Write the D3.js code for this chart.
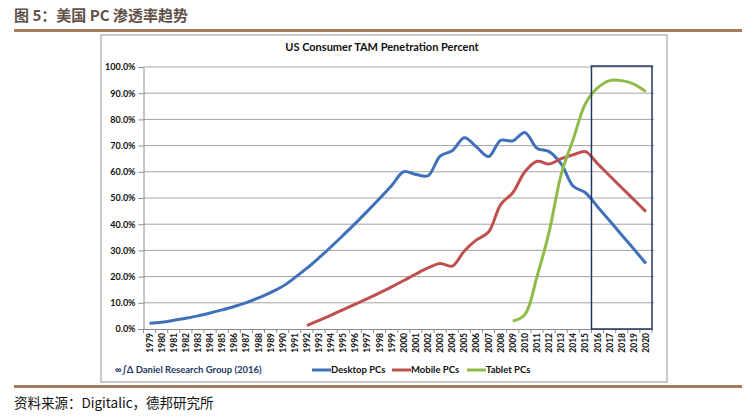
<!DOCTYPE html>
<html>
<head>
<meta charset="utf-8">
<script src="https://cdn.jsdelivr.net/npm/d3@7"></script>
<style>
  body { margin: 0; background: #fff; }
  text { font-family: "Lato", "Liberation Sans", sans-serif; }
</style>
</head>
<body>
<div id="chart"></div>
<script>
// years on the category axis
var years = d3.range(1979, 2021).map(String);

// series values (percent), null where the series has no data
var desktop = [2.2, 2.6, 3.3, 4.1, 5.0, 6.1, 7.3, 8.6, 10.1, 11.9, 13.9, 16.3, 19.6, 23.2, 27.2,
  31.4, 35.8, 40.3, 45.0, 49.8, 54.8, 60.0, 59.0, 58.5, 66.0, 68.0, 73.0, 69.5, 65.8, 72.0,
  71.8, 75.0, 69.0, 67.7, 63.0, 54.5, 52.0, 46.7, 41.3, 35.9, 30.5, 25.0];
var mobile = [null, null, null, null, null, null, null, null, null, null, null, null, null,
  1.3, 3.3, 5.3, 7.4, 9.5, 11.6, 13.8, 16.1, 18.5, 21.0, 23.3, 25.0, 24.0, 29.8, 34.0, 37.0,
  47.5, 52.0, 60.0, 64.0, 63.0, 65.0, 66.5, 67.7, 63.1, 58.5, 53.9, 49.4, 44.8];
var tablet = [null, null, null, null, null, null, null, null, null, null, null, null, null,
  null, null, null, null, null, null, null, null, null, null, null, null, null, null, null, null,
  null, 3.0, 5.5, 20.0, 37.0, 59.0, 72.5, 86.0, 92.0, 94.8, 94.8, 93.5, 90.6];

var yTicks = [0, 10, 20, 30, 40, 50, 60, 70, 80, 90, 100];
var seriesNames = ["Desktop PCs", "Mobile PCs", "Tablet PCs"];
var seriesColors = ["#3f70b9", "#c0504d", "#8fbc48"];
var forecastYears = ["2016", "2020"];

var W = 754, H = 419;
var svg = d3.select("#chart").append("svg")
  .attr("width", W).attr("height", H);

// page heading and rules
svg.append("text")
  .attr("x", 14).attr("y", 21)
  .style("font-family", "'Noto Sans CJK SC', sans-serif")
  .style("font-size", "15px").style("font-weight", "bold")
  .attr("fill", "#5f5048")
  .text("图 5：美国 PC 渗透率趋势");
svg.append("rect").attr("x", 14).attr("y", 29).attr("width", 728).attr("height", 3).attr("fill", "#a57c5b");
svg.append("rect").attr("x", 14).attr("y", 385).attr("width", 728).attr("height", 3).attr("fill", "#a57c5b");
svg.append("text")
  .attr("x", 14).attr("y", 408)
  .style("font-family", "'Noto Sans CJK SC', 'Liberation Sans', sans-serif")
  .style("font-size", "13.5px")
  .attr("fill", "#111")
  .text("资料来源：Digitalic，德邦研究所");

// chart frame
svg.append("rect")
  .attr("x", 101).attr("y", 35).attr("width", 566).attr("height", 347)
  .attr("fill", "#fff").attr("stroke", "#c9c9c9").attr("stroke-width", 2);

svg.append("text")
  .attr("x", 382).attr("y", 51)
  .attr("text-anchor", "middle")
  .style("font-size", "11px").style("font-weight", "bold")
  .attr("fill", "#111")
  .text("US Consumer TAM Penetration Percent");

var plotLeft = 143.5, plotRight = 652, plotTop = 67, plotBottom = 329;

var x = d3.scaleBand().domain(years).range([plotLeft, plotRight]);
var y = d3.scaleLinear().domain([0, 100]).range([plotBottom, plotTop]);

// gridlines
svg.append("g").selectAll("line")
  .data(yTicks.slice(1))
  .enter().append("line")
  .attr("x1", plotLeft).attr("x2", plotRight + 2)
  .attr("y1", function(d) { return y(d); })
  .attr("y2", function(d) { return y(d); })
  .attr("stroke", "#a3a3a3").attr("stroke-width", 1);

// Y axis
var yAxis = svg.append("g")
  .attr("transform", "translate(" + plotLeft + ",0)")
  .call(d3.axisLeft(y).tickValues(yTicks).tickSize(5).tickPadding(3)
    .tickFormat(function(d) { return d.toFixed(1) + "%"; }));
yAxis.select(".domain").attr("stroke", "#8c8c8c");
yAxis.selectAll(".tick line").attr("stroke", "#8c8c8c");
yAxis.selectAll("text")
  .style("font-size", "9px").style("font-weight", "bold")
  .style("font-family", "Lato, sans-serif").attr("fill", "#111");

// X axis
var xAxis = svg.append("g")
  .attr("transform", "translate(0," + plotBottom + ")")
  .call(d3.axisBottom(x).tickSize(0).tickPadding(0));
xAxis.select(".domain").attr("stroke", "#8c8c8c");
xAxis.selectAll("text")
  .attr("transform", "rotate(-90)")
  .attr("x", -4).attr("y", 0).attr("dy", "0.35em")
  .style("text-anchor", "end")
  .style("font-size", "8.5px").style("font-weight", "bold")
  .style("font-family", "Lato, sans-serif").attr("fill", "#111");
// tick marks between categories
svg.append("g").selectAll("line")
  .data(years.concat(["end"]))
  .enter().append("line")
  .attr("x1", function(d, i) { return plotLeft + i * x.step(); })
  .attr("x2", function(d, i) { return plotLeft + i * x.step(); })
  .attr("y1", plotBottom).attr("y2", plotBottom + 4)
  .attr("stroke", "#8c8c8c");

// lines (smoothed like the spreadsheet chart)
var allSeries = [desktop, mobile, tablet];
svg.append("g").selectAll("path")
  .data(allSeries)
  .enter().append("path")
  .attr("d", function(d) {
    var idx = d.map(function(v, i) { return v == null ? null : i; })
      .filter(function(v) { return v != null; });
    return d3.line()
      .x(function(i) { return x(years[i]) + x.bandwidth() / 2; })
      .y(function(i) { return y(d[i]); })
      .curve(d3.curveCatmullRom.alpha(0.5))(idx);
  })
  .attr("fill", "none")
  .attr("stroke", function(d, i) { return seriesColors[i]; })
  .attr("stroke-width", 3)
  .attr("stroke-linejoin", "round");

// forecast box
svg.append("rect")
  .attr("x", x(forecastYears[0]))
  .attr("y", y(100) - 1)
  .attr("width", x(forecastYears[1]) + x.step() - x(forecastYears[0]))
  .attr("height", y(0) - y(100) + 1)
  .attr("fill", "none").attr("stroke", "#1f3864").attr("stroke-width", 1.5);

// source note and legend
svg.append("text")
  .attr("x", 115).attr("y", 373)
  .style("font-size", "9.5px").style("font-weight", "bold")
  .attr("fill", "#1f3864")
  .text("∞∫Δ Daniel Research Group (2016)");

var legendX = [312, 392, 467];
var lg = svg.append("g").selectAll("g")
  .data(seriesNames)
  .enter().append("g")
  .attr("transform", function(d, i) { return "translate(" + legendX[i] + ",370)"; });
lg.append("line")
  .attr("x1", 0).attr("x2", 19).attr("y1", 0).attr("y2", 0)
  .attr("stroke", function(d, i) { return seriesColors[i]; })
  .attr("stroke-width", 3);
lg.append("text")
  .attr("x", 19).attr("y", 3)
  .style("font-size", "9.5px").style("font-weight", "bold")
  .attr("fill", "#111")
  .text(function(d) { return d; });
</script>
</body>
</html>
